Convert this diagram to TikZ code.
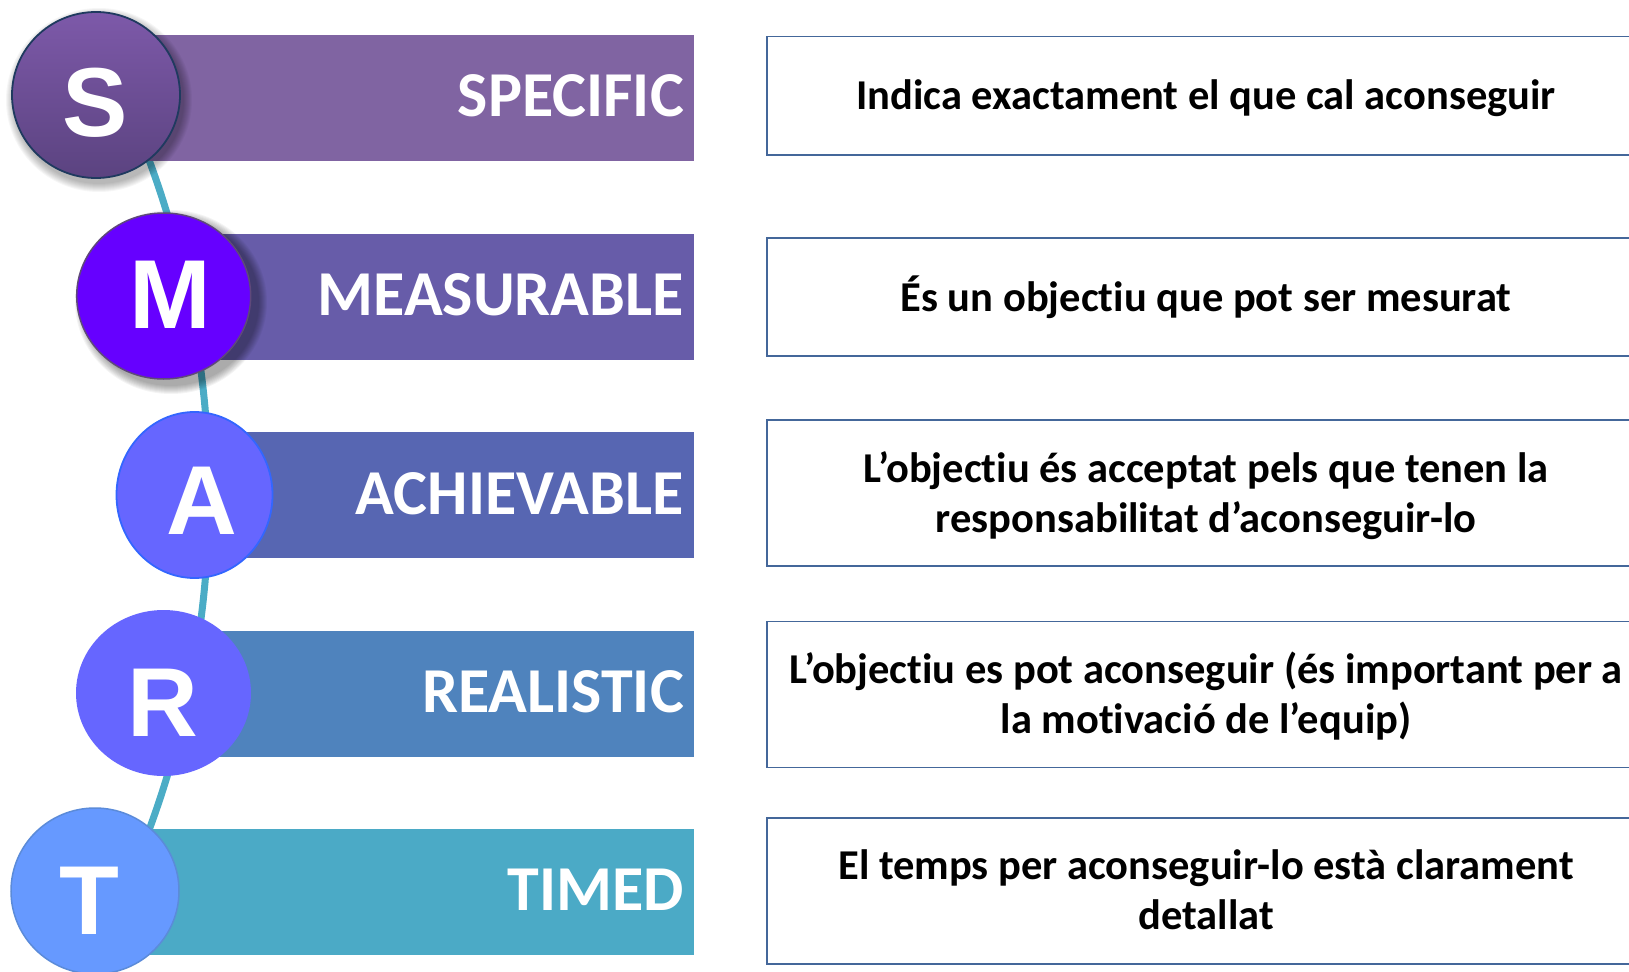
\documentclass[tikz,border=0pt]{standalone}
\usepackage{fontspec}
\setmainfont{Carlito}[Ligatures={NoCommon,NoContextual,NoRare}, Contextuals={NoAlternate}]
\newfontfamily\letterfont{Liberation Sans}
\usetikzlibrary{shapes.geometric}
\newcommand\tiNoLig{t\kern0pt i}
\definecolor{barS}{HTML}{8064A2}
\definecolor{barM}{HTML}{675CA9}
\definecolor{barA}{HTML}{5766B2}
\definecolor{barR}{HTML}{4F83BD}
\definecolor{barT}{HTML}{4BAAC6}
\definecolor{arcteal}{HTML}{4BACC6}
\definecolor{sTop}{HTML}{7D59A9}
\definecolor{sBot}{HTML}{5B4380}
\definecolor{sLine}{HTML}{1F3A5F}
\definecolor{mFill}{HTML}{6600FF}
\definecolor{mLine}{HTML}{5F497A}
\definecolor{aFill}{HTML}{6666FF}
\definecolor{aLine}{HTML}{3366FF}
\definecolor{tFill}{HTML}{6699FF}
\definecolor{tLine}{HTML}{5B8BD9}
\definecolor{boxLine}{HTML}{44679A}
\begin{document}
\begin{tikzpicture}[x=1pt,y=-1pt,
  bar/.style={rectangle, inner sep=0, anchor=north west, minimum height=126},
  barlabel/.style={text=white, font=\bfseries\fontsize{64}{70}\selectfont, anchor=base east, inner sep=0},
  letter/.style={text=white, font=\letterfont\bfseries\fontsize{98}{98}\selectfont, anchor=base, inner sep=0},
  dot/.style={ellipse, inner sep=0},
  descbox/.style={rectangle, draw=boxLine, line width=1.6pt, fill=white, minimum width=878},
  desctext/.style={align=center, font=\bfseries\fontsize{42.5}{50}\selectfont, inner sep=0},
  link/.style={draw=arcteal, line width=7pt}
]
\useasboundingbox (0,0) rectangle (1629,971);
\clip (0,0) rectangle (1629,971);

% connecting arc behind everything
\coordinate (arcC) at (-757,495);
\draw[link] (arcC) ++(-21:966) arc[start angle=-21, end angle=21, radius=966];

% bars
\node[bar, fill=barS, minimum width=554] (bS) at (140,35) {};
\node[bar, fill=barM, minimum width=534] (bM) at (160,233.5) {};
\node[bar, fill=barA, minimum width=504] (bA) at (190,432) {};
\node[bar, fill=barR, minimum width=534] (bR) at (160,630.7) {};
\node[bar, fill=barT, minimum width=554] (bT) at (140,829) {};

\node[barlabel] (lS) at (684,117) {SPECIFIC};
\node[barlabel] (lM) at (684,315.5) {MEASURABLE};
\node[barlabel] (lA) at (684,514) {ACHIEVABLE};
\node[barlabel] (lR) at (684,712) {REALISTIC};
\node[barlabel] (lT) at (684,910.5) {TIMED};

% shadows
\foreach \i in {1,...,9}{
  \fill[black, opacity=0.035] (99,100) ellipse [x radius=84+\i, y radius=83+\i];
  \fill[black, opacity=0.045] (171,302) ellipse [x radius=87+\i, y radius=83+\i];
}

% circles
\node[dot, top color=sTop, bottom color=sBot, draw=sLine, line width=1.8pt, minimum width=168, minimum height=166] (cS) at (96,95) {};
\node[dot, fill=mFill, draw=mLine, line width=1.5pt, minimum width=174, minimum height=166] (cM) at (163.7,296) {};
\node[dot, fill=aFill, draw=aLine, line width=1.8pt, minimum width=156, minimum height=166] (cA) at (194.5,495) {};
\node[dot, fill=aFill, minimum width=175, minimum height=166] (cR) at (163.5,693) {};
\node[dot, fill=tFill, draw=tLine, line width=1.5pt, minimum width=168, minimum height=166] (cT) at (95,891) {};

\node[letter] (tS) at (95.5,136) {S};
\node[letter] (tM) at (170.5,328) {M};
\node[letter] (tA) at (201.5,534) {A};
\node[letter] (tR) at (163,736.5) {R};
\node[letter] (tT) at (89,934) {T};

% description boxes
\node[descbox, minimum height=118] (d1) at (1206,95.7) {};
\node[descbox, minimum height=118] (d2) at (1206,297) {};
\node[descbox, minimum height=146] (d3) at (1206,493) {};
\node[descbox, minimum height=146] (d4) at (1206,694.5) {};
\node[descbox, minimum height=146] (d5) at (1206,891) {};

\node[desctext, anchor=base] (x1) at (1206,110) {Indica exactament el que cal aconseguir};
\node[desctext, anchor=base] (x2) at (1206,311) {És un objec\tiNoLig u que pot ser mesurat};
\node[desctext, anchor=base] (x3) at (1206,482) {L’objec\tiNoLig u és acceptat pels que tenen la};
\node[desctext, anchor=base] (x3b) at (1206,532) {responsabilitat d’aconseguir-lo};
\node[desctext, anchor=base] (x4) at (1206,683) {L’objec\tiNoLig u es pot aconseguir (és important per a};
\node[desctext, anchor=base] (x4b) at (1206,733) {la mo\tiNoLig vació de l’equip)};
\node[desctext, anchor=base] (x5) at (1206,879) {El temps per aconseguir-lo està clarament};
\node[desctext, anchor=base] (x5b) at (1206,929) {detallat};
\end{tikzpicture}
\end{document}
